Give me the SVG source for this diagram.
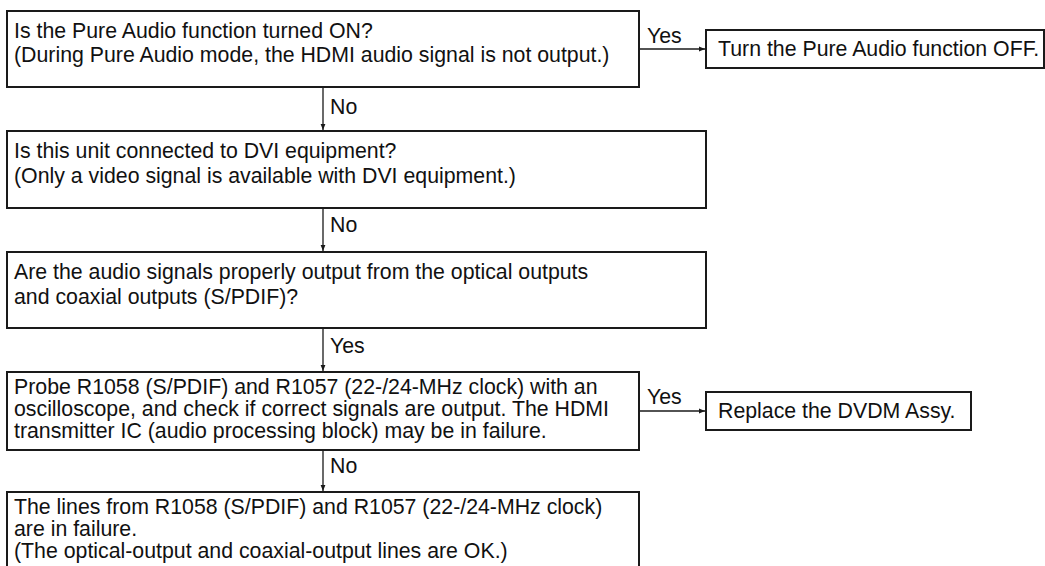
<svg xmlns="http://www.w3.org/2000/svg" width="1045" height="566" viewBox="0 0 1045 566">
<defs>
<style>
.box{fill:#fff;stroke:#1a1a1a;stroke-width:2}
.t{font-family:"Liberation Sans",Arial,sans-serif;font-size:21.3px;fill:#111}
.ln{stroke:#1a1a1a;stroke-width:1.3;fill:none}
</style>
<marker id="ah" viewBox="0 0 10 10" refX="10" refY="5" markerWidth="6" markerHeight="6" markerUnits="userSpaceOnUse" orient="auto">
<path d="M0,1 L10,5 L0,9 z" fill="#1a1a1a"/>
</marker>
</defs>
<rect width="1045" height="566" fill="#fff"/>
<g id="connectors">
<line class="ln" x1="323" y1="87" x2="323" y2="130" marker-end="url(#ah)"/>
<line class="ln" x1="323" y1="208" x2="323" y2="251" marker-end="url(#ah)"/>
<line class="ln" x1="323" y1="328" x2="323" y2="371" marker-end="url(#ah)"/>
<line class="ln" x1="323" y1="450" x2="323" y2="491" marker-end="url(#ah)"/>
<line class="ln" x1="639" y1="49" x2="705" y2="49" marker-end="url(#ah)"/>
<line class="ln" x1="639" y1="411" x2="705" y2="411" marker-end="url(#ah)"/>
<text class="t" x="330" y="114">No</text>
<text class="t" x="330" y="232">No</text>
<text class="t" x="330" y="353">Yes</text>
<text class="t" x="330" y="473">No</text>
<text class="t" x="647" y="43">Yes</text>
<text class="t" x="647" y="404">Yes</text>
</g>
<g id="n1">
<rect class="box" x="7" y="11" width="632" height="76"/>
<text class="t" x="14" y="38">Is the Pure Audio function turned ON?</text>
<text class="t" x="14" y="62">(During Pure Audio mode, the HDMI audio signal is not output.)</text>
</g>
<g id="n2">
<rect class="box" x="706" y="30" width="338" height="38"/>
<text class="t" x="718" y="56">Turn the Pure Audio function OFF.</text>
</g>
<g id="n3">
<rect class="box" x="7" y="131" width="699" height="77"/>
<text class="t" x="14" y="158">Is this unit connected to DVI equipment?</text>
<text class="t" x="14" y="183">(Only a video signal is available with DVI equipment.)</text>
</g>
<g id="n4">
<rect class="box" x="7" y="252" width="699" height="76"/>
<text class="t" x="14" y="279">Are the audio signals properly output from the optical outputs</text>
<text class="t" x="14" y="304">and coaxial outputs (S/PDIF)?</text>
</g>
<g id="n5">
<rect class="box" x="7" y="372" width="632" height="78"/>
<text class="t" x="14" y="394">Probe R1058 (S/PDIF) and R1057 (22-/24-MHz clock) with an</text>
<text class="t" x="14" y="416">oscilloscope, and check if correct signals are output. The HDMI</text>
<text class="t" x="14" y="438">transmitter IC (audio processing block) may be in failure.</text>
</g>
<g id="n6">
<rect class="box" x="706" y="392" width="265" height="38"/>
<text class="t" x="718" y="418">Replace the DVDM Assy.</text>
</g>
<g id="n7">
<rect class="box" x="7" y="492" width="632" height="80"/>
<text class="t" x="14" y="514">The lines from R1058 (S/PDIF) and R1057 (22-/24-MHz clock)</text>
<text class="t" x="14" y="536">are in failure.</text>
<text class="t" x="14" y="558">(The optical-output and coaxial-output lines are OK.)</text>
</g>
</svg>
